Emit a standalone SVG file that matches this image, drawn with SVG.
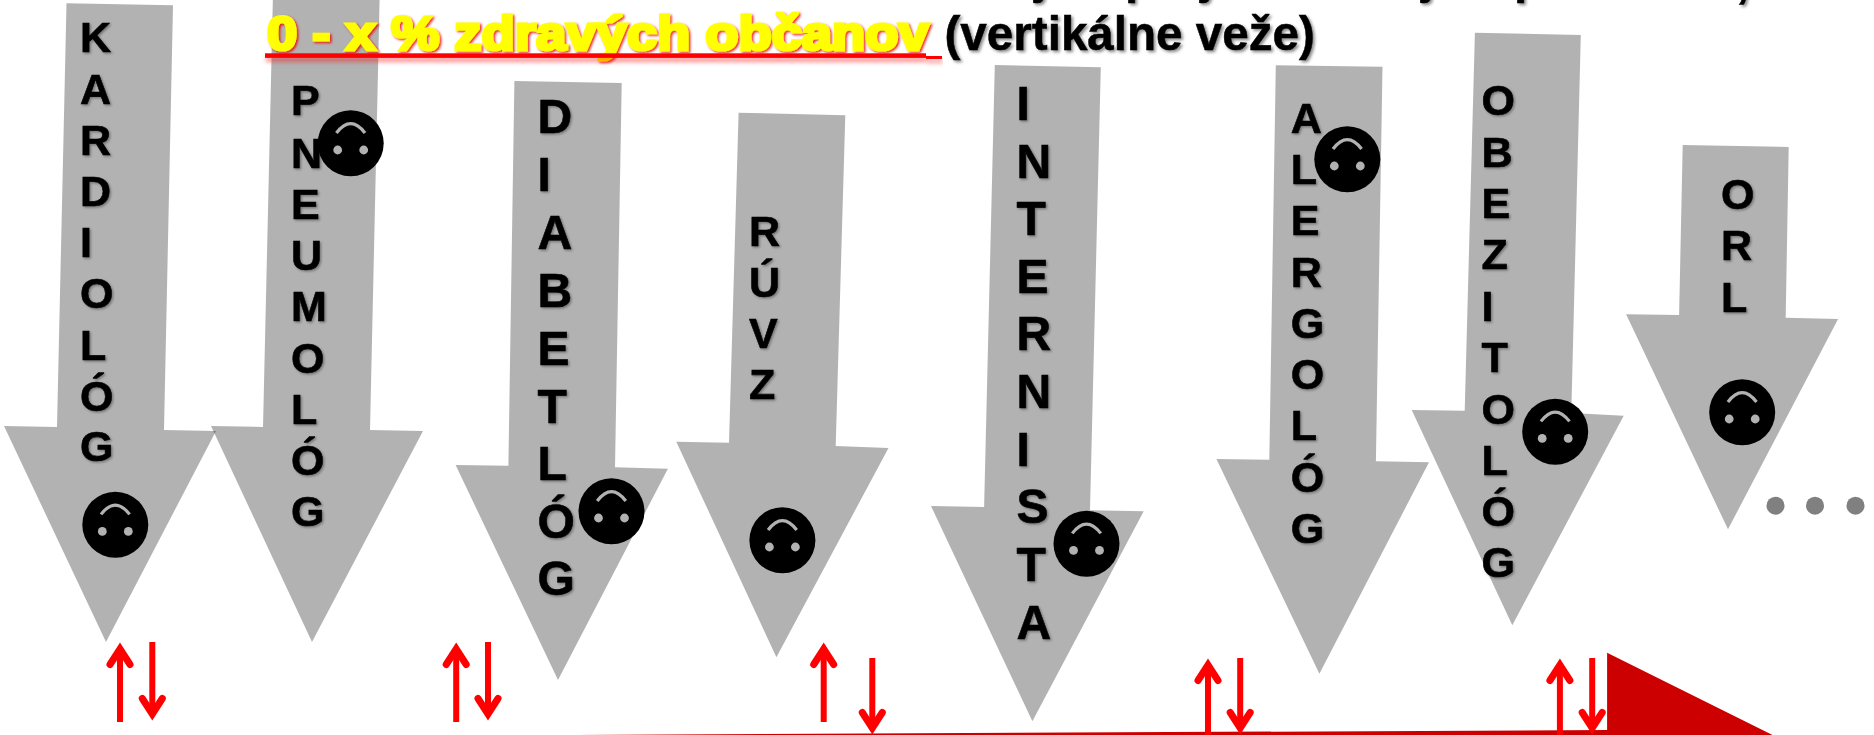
<svg xmlns="http://www.w3.org/2000/svg" width="1874" height="735" viewBox="0 0 1874 735">
<style>
.arrow{fill:#000;fill-opacity:.3}
.lab{font-family:"Liberation Sans",Arial,sans-serif;font-weight:700;fill:#000;stroke:#000;stroke-width:.6px;filter:url(#sh)}
.s43{font-size:43px}
.s48{font-size:48px}
.title{font-family:"Liberation Sans",Arial,sans-serif;font-weight:700;font-size:47.6px}
.yel{fill:#ff0;stroke:#ff0;stroke-width:3.2px;font-size:49px;filter:url(#shr)}
.blk{fill:#000;stroke:#000;stroke-width:.5px;filter:url(#sh2)}
.ul{fill:#f00}
.face{fill:#000}
.eye{fill:#b2b2b2}
.smile{fill:none;stroke:#b2b2b2;stroke-width:3.2px}
.red{stroke:#f00;stroke-width:6px;fill:none;marker-end:url(#open)}
.dot{fill:#808080}
</style>
<defs>
<filter id="sh" x="-30%" y="-5%" width="160%" height="110%"><feDropShadow dx="1.4" dy="1.4" stdDeviation="1.2" flood-color="#000" flood-opacity=".35"/></filter>
<filter id="sh2" x="-5%" y="-30%" width="110%" height="160%"><feDropShadow dx="2" dy="2" stdDeviation="1.4" flood-color="#000" flood-opacity=".45"/></filter>
<filter id="shr" x="-5%" y="-30%" width="110%" height="160%"><feDropShadow dx="1.5" dy="1.5" stdDeviation=".8" flood-color="#e00" flood-opacity=".85"/></filter>
<filter id="shu" x="-5%" y="-200%" width="110%" height="600%"><feDropShadow dx="1" dy="4" stdDeviation="2.2" flood-color="#f00" flood-opacity=".45"/></filter>
<marker id="open" markerUnits="userSpaceOnUse" viewBox="0 0 45 30" markerWidth="45" markerHeight="30" refX="30" refY="15" orient="auto" overflow="visible"><path d="M17.5,5L33,15L17.5,25" fill="none" stroke="#f00" stroke-width="7" stroke-linecap="round"/></marker>
<g id="smiley"><circle class="face" r="33"/><path class="smile" d="M-14.3,-10.3Q0,-29 14.3,-10.3"/><circle class="eye" cx="-13" cy="6.7" r="4.4"/><circle class="eye" cx="13" cy="6.7" r="4.4"/></g>
</defs>

<g id="n-kardiolog">
<polygon class="arrow" points="66.5,3.3 173,5.3 164,430 216,431 106,642 4,426 57,427"/>
<text class="lab s43"><tspan x="80" y="52">K</tspan><tspan x="80" y="103.5">A</tspan><tspan x="80" y="155">R</tspan><tspan x="80" y="206">D</tspan><tspan x="80" y="257">I</tspan><tspan x="80" y="308">O</tspan><tspan x="80" y="360">L</tspan><tspan x="80" y="411">Ó</tspan><tspan x="80" y="461">G</tspan></text>
<use href="#smiley" x="115.3" y="524.7"/>
</g>
<g id="n-pneumolog">
<polygon class="arrow" points="273,-7 379.7,-5 370,430 423,431 312,642 211,426 263,427"/>
<text class="lab s43"><tspan x="291" y="115">P</tspan><tspan x="291" y="168">N</tspan><tspan x="291" y="219">E</tspan><tspan x="291" y="270">U</tspan><tspan x="291" y="321">M</tspan><tspan x="291" y="372.5">O</tspan><tspan x="291" y="424">L</tspan><tspan x="291" y="475">Ó</tspan><tspan x="291" y="526">G</tspan></text>
<use href="#smiley" x="350.7" y="143.3"/>
</g>
<g id="n-diabetolog">
<polygon class="arrow" points="514.4,81 621.7,83 615,467.3 667.9,468.7 558,680 455.6,465 508.4,465.7"/>
<text class="lab s48"><tspan x="537.4" y="133">D</tspan><tspan x="537.4" y="191">I</tspan><tspan x="537.4" y="249">A</tspan><tspan x="537.4" y="306.5">B</tspan><tspan x="537.4" y="364.5">E</tspan><tspan x="537.4" y="422.5">T</tspan><tspan x="537.4" y="480">L</tspan><tspan x="537.4" y="538">Ó</tspan><tspan x="537.4" y="595">G</tspan></text>
<use href="#smiley" x="611.5" y="511.3"/>
</g>
<g id="n-ruvz">
<polygon class="arrow" points="738.6,112.7 845.3,115.3 835.7,446 888.5,448 776.4,657.3 676.3,441.7 729,442.7"/>
<text class="lab s43"><tspan x="749" y="246">R</tspan><tspan x="749" y="297">Ú</tspan><tspan x="749" y="348">V</tspan><tspan x="749" y="399">Z</tspan></text>
<use href="#smiley" x="782.4" y="540.3"/>
</g>
<g id="n-internista">
<polygon class="arrow" points="994.8,65 1100.8,67.3 1090,510.3 1143.7,511.3 1032.4,721.3 931,506 984.1,507"/>
<text class="lab s48"><tspan x="1016.5" y="120">I</tspan><tspan x="1016.5" y="177.7">N</tspan><tspan x="1016.5" y="235">T</tspan><tspan x="1016.5" y="292.7">E</tspan><tspan x="1016.5" y="350">R</tspan><tspan x="1016.5" y="408">N</tspan><tspan x="1016.5" y="466">I</tspan><tspan x="1016.5" y="523">S</tspan><tspan x="1016.5" y="580.7">T</tspan><tspan x="1016.5" y="638.5">A</tspan></text>
<use href="#smiley" x="1086.5" y="543.7"/>
</g>
<g id="n-alergolog">
<polygon class="arrow" points="1275.8,65.3 1382.5,66.7 1375.9,461.3 1429,462.3 1319.4,673.7 1216.4,459 1269.3,459.7"/>
<text class="lab s43"><tspan x="1290.7" y="132.7">A</tspan><tspan x="1290.7" y="184">L</tspan><tspan x="1290.7" y="235">E</tspan><tspan x="1290.7" y="286.5">R</tspan><tspan x="1290.7" y="338">G</tspan><tspan x="1290.7" y="389">O</tspan><tspan x="1290.7" y="440">L</tspan><tspan x="1290.7" y="491.5">Ó</tspan><tspan x="1290.7" y="543">G</tspan></text>
<use href="#smiley" x="1347.3" y="159.3"/>
</g>
<g id="n-obezitolog">
<polygon class="arrow" points="1474.9,32.7 1580.8,35 1571.3,413 1623.7,415.7 1512.3,625.3 1411.7,410 1464.7,410.7"/>
<text class="lab s43"><tspan x="1481.4" y="115">O</tspan><tspan x="1481.4" y="166.5">B</tspan><tspan x="1481.4" y="218">E</tspan><tspan x="1481.4" y="269">Z</tspan><tspan x="1481.4" y="320.5">I</tspan><tspan x="1481.4" y="372">T</tspan><tspan x="1481.4" y="423.5">O</tspan><tspan x="1481.4" y="475">L</tspan><tspan x="1481.4" y="526">Ó</tspan><tspan x="1481.4" y="577">G</tspan></text>
<use href="#smiley" x="1555.2" y="431.7"/>
</g>
<g id="n-orl">
<polygon class="arrow" points="1682.7,145 1788.7,147 1785.7,317.7 1838.1,319 1728,529.3 1626.1,314.3 1679.1,315"/>
<text class="lab s43"><tspan x="1720.9" y="208.5">O</tspan><tspan x="1720.9" y="260">R</tspan><tspan x="1720.9" y="311.5">L</tspan></text>
<use href="#smiley" x="1742.2" y="412.3"/>
</g>

<g id="n-heading">
<text class="title blk" x="1034" y="-7">j</text>
<text class="title blk" x="1125" y="-7">p</text>
<text class="title blk" x="1200" y="-7">j</text>
<text class="title blk" x="1421" y="-7">j</text>
<text class="title blk" x="1514" y="-7">p</text>
<text class="title blk" x="1736" y="-3">,</text>
<text class="title yel" transform="translate(267,50) scale(1.11,1)">0 - x % zdravých občanov</text>
<rect class="ul" x="265" y="53.3" width="661" height="4.6" filter="url(#shu)"/>
<rect class="ul" x="926" y="56" width="16" height="3" filter="url(#shu)"/>
<text class="title blk" x="944.5" y="50">(vertikálne veže)</text>
</g>

<g id="n-dots">
<circle class="dot" cx="1775.5" cy="505.7" r="9"/><circle class="dot" cx="1815" cy="505.7" r="9"/><circle class="dot" cx="1855.5" cy="505.7" r="9"/>
</g>

<polygon id="n-wedge" fill="#c00" points="575,735 1607.1,730 1607.1,652.7 1772.5,735"/>

<g id="connectors">
<line class="red" x1="120" y1="722" x2="120" y2="652"/>
<line class="red" x1="152.3" y1="642" x2="152.3" y2="711"/>
<line class="red" x1="456.2" y1="722" x2="456.2" y2="652"/>
<line class="red" x1="488" y1="642" x2="488" y2="711"/>
<line class="red" x1="823.7" y1="722" x2="823.7" y2="652"/>
<line class="red" x1="872.3" y1="658" x2="872.3" y2="725"/>
<line class="red" x1="1208" y1="735" x2="1208" y2="668"/>
<line class="red" x1="1240.2" y1="658" x2="1240.2" y2="725"/>
<line class="red" x1="1559.9" y1="735" x2="1559.9" y2="668"/>
<line class="red" x1="1592.2" y1="658" x2="1592.2" y2="725"/>
</g>
</svg>
